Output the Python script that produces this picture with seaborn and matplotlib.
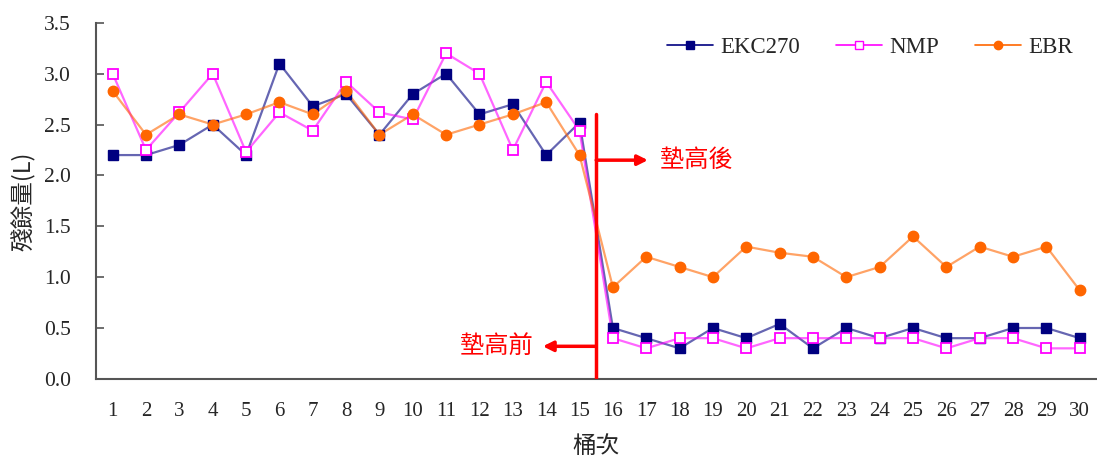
import matplotlib
matplotlib.use("Agg")
import matplotlib.pyplot as plt
import numpy as np
import pandas as pd
import seaborn as sns

# 桶次
batches = list(range(1, 31))

# 殘餘量 (L)
ekc270 = [2.2, 2.2, 2.3, 2.5, 2.2, 3.1, 2.68, 2.8, 2.4, 2.8,
          3.0, 2.6, 2.7, 2.2, 2.52, 0.5, 0.4, 0.3, 0.5, 0.4,
          0.54, 0.3, 0.5, 0.4, 0.5, 0.4, 0.4, 0.5, 0.5, 0.4]
nmp = [3.0, 2.25, 2.62, 3.0, 2.23, 2.62, 2.44, 2.92, 2.62, 2.55,
       3.2, 3.0, 2.25, 2.92, 2.44, 0.4, 0.3, 0.4, 0.4, 0.3,
       0.4, 0.4, 0.4, 0.4, 0.4, 0.3, 0.4, 0.4, 0.3, 0.3]
ebr = [2.83, 2.4, 2.6, 2.5, 2.6, 2.72, 2.6, 2.83, 2.4, 2.6,
       2.4, 2.5, 2.6, 2.72, 2.2, 0.9, 1.2, 1.1, 1.0, 1.3,
       1.24, 1.2, 1.0, 1.1, 1.4, 1.1, 1.3, 1.2, 1.3, 0.87]

series_names = ["EKC270", "NMP", "EBR"]
colors = {"EKC270": "#000080", "NMP": "#FF00FF", "EBR": "#FF6600"}

SERIF = ["Liberation Serif", "Noto Sans CJK TC"]
CJK = ["Noto Sans CJK TC", "DejaVu Sans"]


def main():
    sns.set_style("white")
    plt.rcParams["font.family"] = SERIF

    df = pd.DataFrame({"batch": batches * 3,
                       "value": ekc270 + nmp + ebr,
                       "series": np.repeat(series_names, len(batches))})

    fig = plt.figure(figsize=(10.97, 4.66), dpi=100)
    ax = fig.add_axes([0.0875, 0.187, 0.912, 0.764])

    # 線
    for name in series_names:
        sub = df[df["series"] == name]
        sns.lineplot(data=sub, x="batch", y="value", ax=ax, color=colors[name],
                     linewidth=1.6, alpha=0.6, legend=False)
    # 標記
    ax.plot(batches, ekc270, ls="none", marker="s", ms=7.5, color="#000080")
    ax.plot(batches, nmp, ls="none", marker="s", ms=7, mfc="white", mec="#FF00FF", mew=1.3)
    ax.plot(batches, ebr, ls="none", marker="o", ms=7.5, color="#FF6600")

    # 圖例
    handles = [
        plt.Line2D([], [], color="#000080", marker="s", ms=6, lw=1.2),
        plt.Line2D([], [], color="#FF00FF", marker="s", ms=6, mfc="white", lw=1.2),
        plt.Line2D([], [], color="#FF6600", marker="o", ms=6, lw=1.2),
    ]
    ax.legend(handles, series_names, loc="upper right", ncol=3, frameon=False,
              fontsize=16.5, handlelength=2.0, handletextpad=0.3, columnspacing=1.6,
              bbox_to_anchor=(0.99, 1.0), borderaxespad=0.2)

    # 墊高分隔線與箭頭
    ax.plot([15.5, 15.5], [0.0, 2.6], color="red", lw=2.5, zorder=5)
    ax.annotate("", xy=(17.05, 2.15), xytext=(15.5, 2.15),
                arrowprops=dict(arrowstyle="-|>,head_length=0.6,head_width=0.3",
                                color="red", lw=2.5, shrinkA=0, shrinkB=0))
    ax.annotate("", xy=(13.9, 0.32), xytext=(15.5, 0.32),
                arrowprops=dict(arrowstyle="-|>,head_length=0.6,head_width=0.3",
                                color="red", lw=2.5, shrinkA=0, shrinkB=0))
    ax.text(17.4, 2.15, "墊高後", color="red", fontsize=17.5, family=CJK, va="center")
    ax.text(13.6, 0.32, "墊高前", color="red", fontsize=17.5, family=CJK, va="center", ha="right")

    # 軸
    ax.set_xlim(0.5, 30.5)
    ax.set_ylim(0, 3.5)
    ax.set_xticks(batches)
    ax.set_xticklabels([str(b) for b in batches], fontsize=15)
    ax.set_xticks(np.arange(0.5, 31, 1), minor=True)
    ax.tick_params(axis="x", which="major", length=0, pad=17)
    ax.tick_params(axis="x", which="minor", length=5, direction="in", color="#555555", width=1.2)
    ax.set_yticks(np.arange(0, 3.51, 0.5))
    ax.set_yticklabels([f"{v:.1f}" for v in np.arange(0, 3.51, 0.5)], fontsize=15.5)
    ax.tick_params(axis="y", length=6, direction="in", color="#555555", width=1.2, left=True, pad=18)

    for side in ["top", "right"]:
        ax.spines[side].set_visible(False)
    for side in ["left", "bottom"]:
        ax.spines[side].set_color("#555555")
        ax.spines[side].set_linewidth(1.5)

    ax.set_xlabel("桶次", fontsize=17, family=CJK, labelpad=10)
    ax.set_ylabel("殘餘量(L)", fontsize=17, family=CJK, labelpad=6)

    fig.savefig("out.png", dpi=100)


if __name__ == "__main__":
    main()
